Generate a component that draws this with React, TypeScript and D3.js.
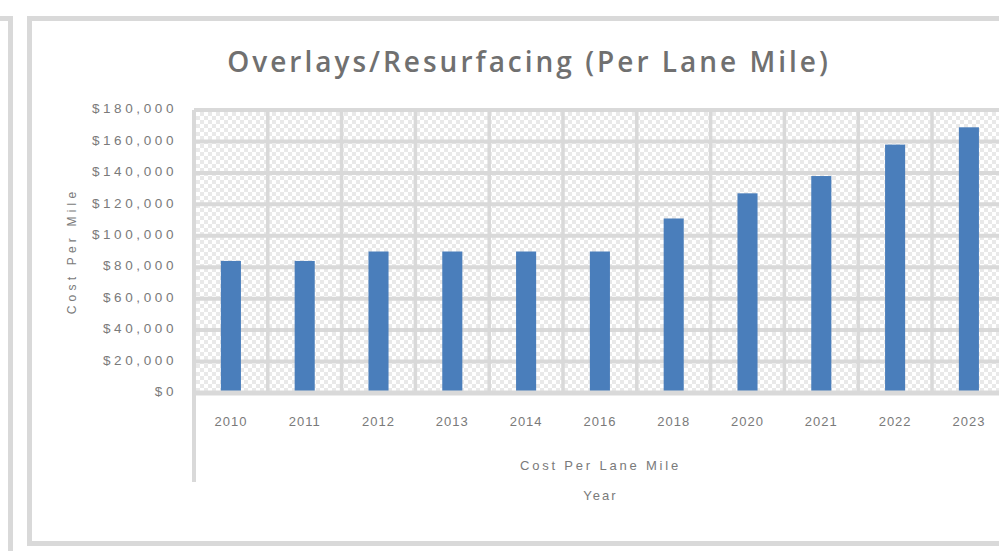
import React, { useEffect, useRef } from 'react';
import * as d3 from 'd3';

// values
const years = ['2010', '2011', '2012', '2013', '2014', '2016', '2018', '2020', '2021', '2022', '2023'];
const costs = [84000, 84000, 90000, 90000, 90000, 90000, 111000, 127000, 138000, 158000, 169000];
const yTicks = [0, 20000, 40000, 60000, 80000, 100000, 120000, 140000, 160000, 180000];

const chartTitle = 'Overlays/Resurfacing (Per Lane Mile)';
const groupLabel = 'Cost Per Lane Mile';
const xTitle = 'Year';
const yTitle = 'Cost Per Mile';

const App = () => {
  const svgRef = useRef<SVGSVGElement>(null);

  useEffect(() => {
    const svg = d3.select(svgRef.current);
    svg.selectAll('*').remove();

    const width = 999;
    const height = 551;
    const gridColor = '#d9d9d9';
    const textColor = '#7a7a7a';
    const font = '"Liberation Sans", Arial, sans-serif';

    const plot = { left: 194, top: 110, bottom: 393, step: 73.8 };
    const plotRight = plot.left + plot.step * years.length;

    // Checkered plot background
    const defs = svg.append('defs');
    const pat = defs.append('pattern')
      .attr('id', 'checker')
      .attr('patternUnits', 'userSpaceOnUse')
      .attr('width', 8)
      .attr('height', 8);
    pat.append('rect').attr('width', 8).attr('height', 8).attr('fill', '#ffffff');
    pat.append('rect').attr('width', 4).attr('height', 4).attr('fill', '#e9e9e9');
    pat.append('rect').attr('x', 4).attr('y', 4).attr('width', 4).attr('height', 4).attr('fill', '#e9e9e9');

    svg.append('rect').attr('width', width).attr('height', height).attr('fill', '#fff');

    // neighbouring chart edge on the left
    svg.append('path')
      .attr('d', `M0,18.5H10.5V${height}`)
      .attr('fill', 'none')
      .attr('stroke', gridColor)
      .attr('stroke-width', 5);

    // chart frame
    svg.append('rect')
      .attr('x', 29.5)
      .attr('y', 18.5)
      .attr('width', width + 20)
      .attr('height', 525)
      .attr('fill', 'none')
      .attr('stroke', gridColor)
      .attr('stroke-width', 5);

    // Scales
    const x = d3.scaleBand<string>()
      .domain(years)
      .range([plot.left, plotRight])
      .paddingInner(0.728)
      .paddingOuter(0.364);

    const y = d3.scaleLinear()
      .domain([0, 180000])
      .range([plot.bottom, plot.top]);

    svg.append('rect')
      .attr('x', plot.left)
      .attr('y', plot.top)
      .attr('width', plotRight - plot.left)
      .attr('height', plot.bottom - plot.top)
      .attr('fill', 'url(#checker)');

    // horizontal gridlines
    svg.append('g')
      .selectAll('line')
      .data(yTicks)
      .join('line')
      .attr('x1', plot.left)
      .attr('x2', plotRight)
      .attr('y1', d => y(d))
      .attr('y2', d => y(d))
      .attr('stroke', gridColor)
      .attr('stroke-width', 4);

    // vertical gridlines at category boundaries
    svg.append('g')
      .selectAll('line')
      .data(years.slice(1))
      .join('line')
      .attr('x1', d => (x(d) as number) - x.step() * 0.364)
      .attr('x2', d => (x(d) as number) - x.step() * 0.364)
      .attr('y1', plot.top)
      .attr('y2', plot.bottom)
      .attr('stroke', gridColor)
      .attr('stroke-width', 3.5);

    // bars
    svg.append('g')
      .selectAll('rect')
      .data(years)
      .join('rect')
      .attr('x', d => x(d) as number)
      .attr('width', x.bandwidth())
      .attr('y', (d, i) => y(costs[i]))
      .attr('height', (d, i) => y(0) - y(costs[i]))
      .attr('fill', '#4a7ebb');

    // axis lines (left one runs down past the labels for the grouped axis)
    svg.append('line')
      .attr('x1', plot.left)
      .attr('x2', plot.left)
      .attr('y1', plot.top)
      .attr('y2', 482)
      .attr('stroke', gridColor)
      .attr('stroke-width', 4);
    svg.append('line')
      .attr('x1', plot.left)
      .attr('x2', plotRight)
      .attr('y1', plot.bottom)
      .attr('y2', plot.bottom)
      .attr('stroke', gridColor)
      .attr('stroke-width', 5);

    // Y axis
    const yAxis = svg.append('g')
      .attr('transform', `translate(${plot.left - 14},0)`)
      .call(d3.axisLeft(y).tickValues(yTicks).tickSize(0).tickFormat(d => `$${d3.format(',')(d as number)}`));
    yAxis.select('.domain').remove();
    yAxis.selectAll('.tick text')
      .attr('fill', textColor)
      .attr('font-size', '13.5px')
      .attr('font-family', font)
      .attr('letter-spacing', '3.6px')
      .attr('dy', '0.2em');

    // X axis
    const xAxis = svg.append('g')
      .attr('transform', `translate(0,${plot.bottom})`)
      .call(d3.axisBottom(x).tickSize(0));
    xAxis.select('.domain').remove();
    xAxis.selectAll('.tick text')
      .attr('fill', textColor)
      .attr('font-size', '13px')
      .attr('font-family', font)
      .attr('letter-spacing', '1px')
      .attr('dy', '2.3em');

    // grouped label + axis titles
    const midX = (plot.left + width) / 2 + 4;
    svg.append('text')
      .attr('x', midX)
      .attr('y', 470)
      .attr('text-anchor', 'middle')
      .attr('fill', textColor)
      .attr('font-size', '13px')
      .attr('font-family', font)
      .attr('letter-spacing', '2.8px')
      .text(groupLabel);

    svg.append('text')
      .attr('x', midX)
      .attr('y', 500)
      .attr('text-anchor', 'middle')
      .attr('fill', textColor)
      .attr('font-size', '13px')
      .attr('font-family', font)
      .attr('letter-spacing', '2px')
      .text(xTitle);

    svg.append('text')
      .attr('transform', `translate(76,251) rotate(-90)`)
      .attr('text-anchor', 'middle')
      .attr('fill', textColor)
      .attr('font-size', '12px')
      .attr('font-family', font)
      .attr('letter-spacing', '4.2px')
      .text(yTitle);

    // Title
    svg.append('text')
      .attr('x', 529)
      .attr('y', 72)
      .attr('text-anchor', 'middle')
      .attr('fill', '#707070')
      .attr('font-size', '28px')
      .attr('font-weight', 600)
      .attr('font-family', '"Open Sans", sans-serif')
      .attr('letter-spacing', '3px')
      .text(chartTitle);
  }, []);

  return (
    <div style={{ position: 'absolute', left: 0, top: 0 }}>
      <svg ref={svgRef} width={999} height={551} viewBox="0 0 999 551" style={{ display: 'block' }}></svg>
    </div>
  );
};

export default App;
